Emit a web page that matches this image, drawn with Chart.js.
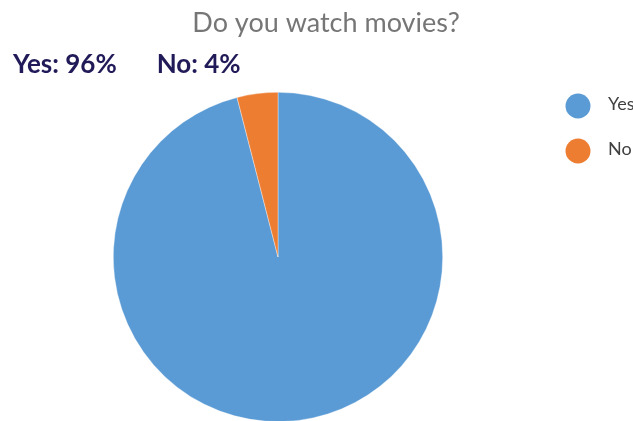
<!DOCTYPE html>
<html>
<head>
<meta charset="utf-8">
<script src="https://cdn.jsdelivr.net/npm/chart.js@4/dist/chart.umd.min.js"></script>
<style>
  html, body { margin: 0; padding: 0; background: #fff; overflow: hidden; }
  #wrap { position: relative; width: 633px; height: 421px; overflow: hidden; }
  canvas { display: block; }
</style>
</head>
<body>
<div id="wrap"><canvas id="c" width="633" height="440"></canvas></div>
<script>
// Survey answers
const labels = ['Yes', 'No'];
const values = [96, 4];
const colors = ['#5b9bd5', '#ed7d31'];
const titleText = 'Do you watch movies?';

// Title, percentage summary and legend painted on top of the pie
const decorations = {
  id: 'decorations',
  afterDraw(chart) {
    const ctx = chart.ctx;
    const ds = chart.data.datasets[0];
    ctx.save();

    // title
    ctx.font = '27px Lato';
    ctx.fillStyle = '#767676';
    ctx.textAlign = 'center';
    ctx.textBaseline = 'alphabetic';
    ctx.fillText(titleText, 326, 32);

    // summary line: "Yes: 96%   No: 4%"
    ctx.font = 'bold 26px Lato';
    ctx.fillStyle = '#211a58';
    ctx.textAlign = 'left';
    let x = 13;
    chart.data.labels.forEach((lab, i) => {
      const s = lab + ': ' + ds.data[i] + '%';
      ctx.fillText(s, x, 73);
      x += ctx.measureText(s).width + 40;
    });

    // legend
    ctx.font = '18px Lato';
    ctx.textBaseline = 'middle';
    chart.data.labels.forEach((lab, i) => {
      const y = 106 + i * 45;
      ctx.beginPath();
      ctx.arc(578, y, 12.5, 0, Math.PI * 2);
      ctx.fillStyle = ds.backgroundColor[i];
      ctx.fill();
      ctx.fillStyle = '#404040';
      ctx.fillText(lab, 608, y - 2);
    });
    ctx.restore();
  }
};

new Chart(document.getElementById('c'), {
  type: 'pie',
  data: {
    labels: labels,
    datasets: [{
      data: values,
      backgroundColor: colors,
      borderColor: 'rgba(255,255,255,0.6)',
      borderWidth: 0.6
    }]
  },
  options: {
    responsive: false,
    animation: false,
    layout: { padding: { left: 113, right: 190, top: 92, bottom: 18 } },
    plugins: {
      legend: { display: false },
      title: { display: false },
      tooltip: { enabled: false }
    }
  },
  plugins: [decorations]
});
</script>
</body>
</html>
